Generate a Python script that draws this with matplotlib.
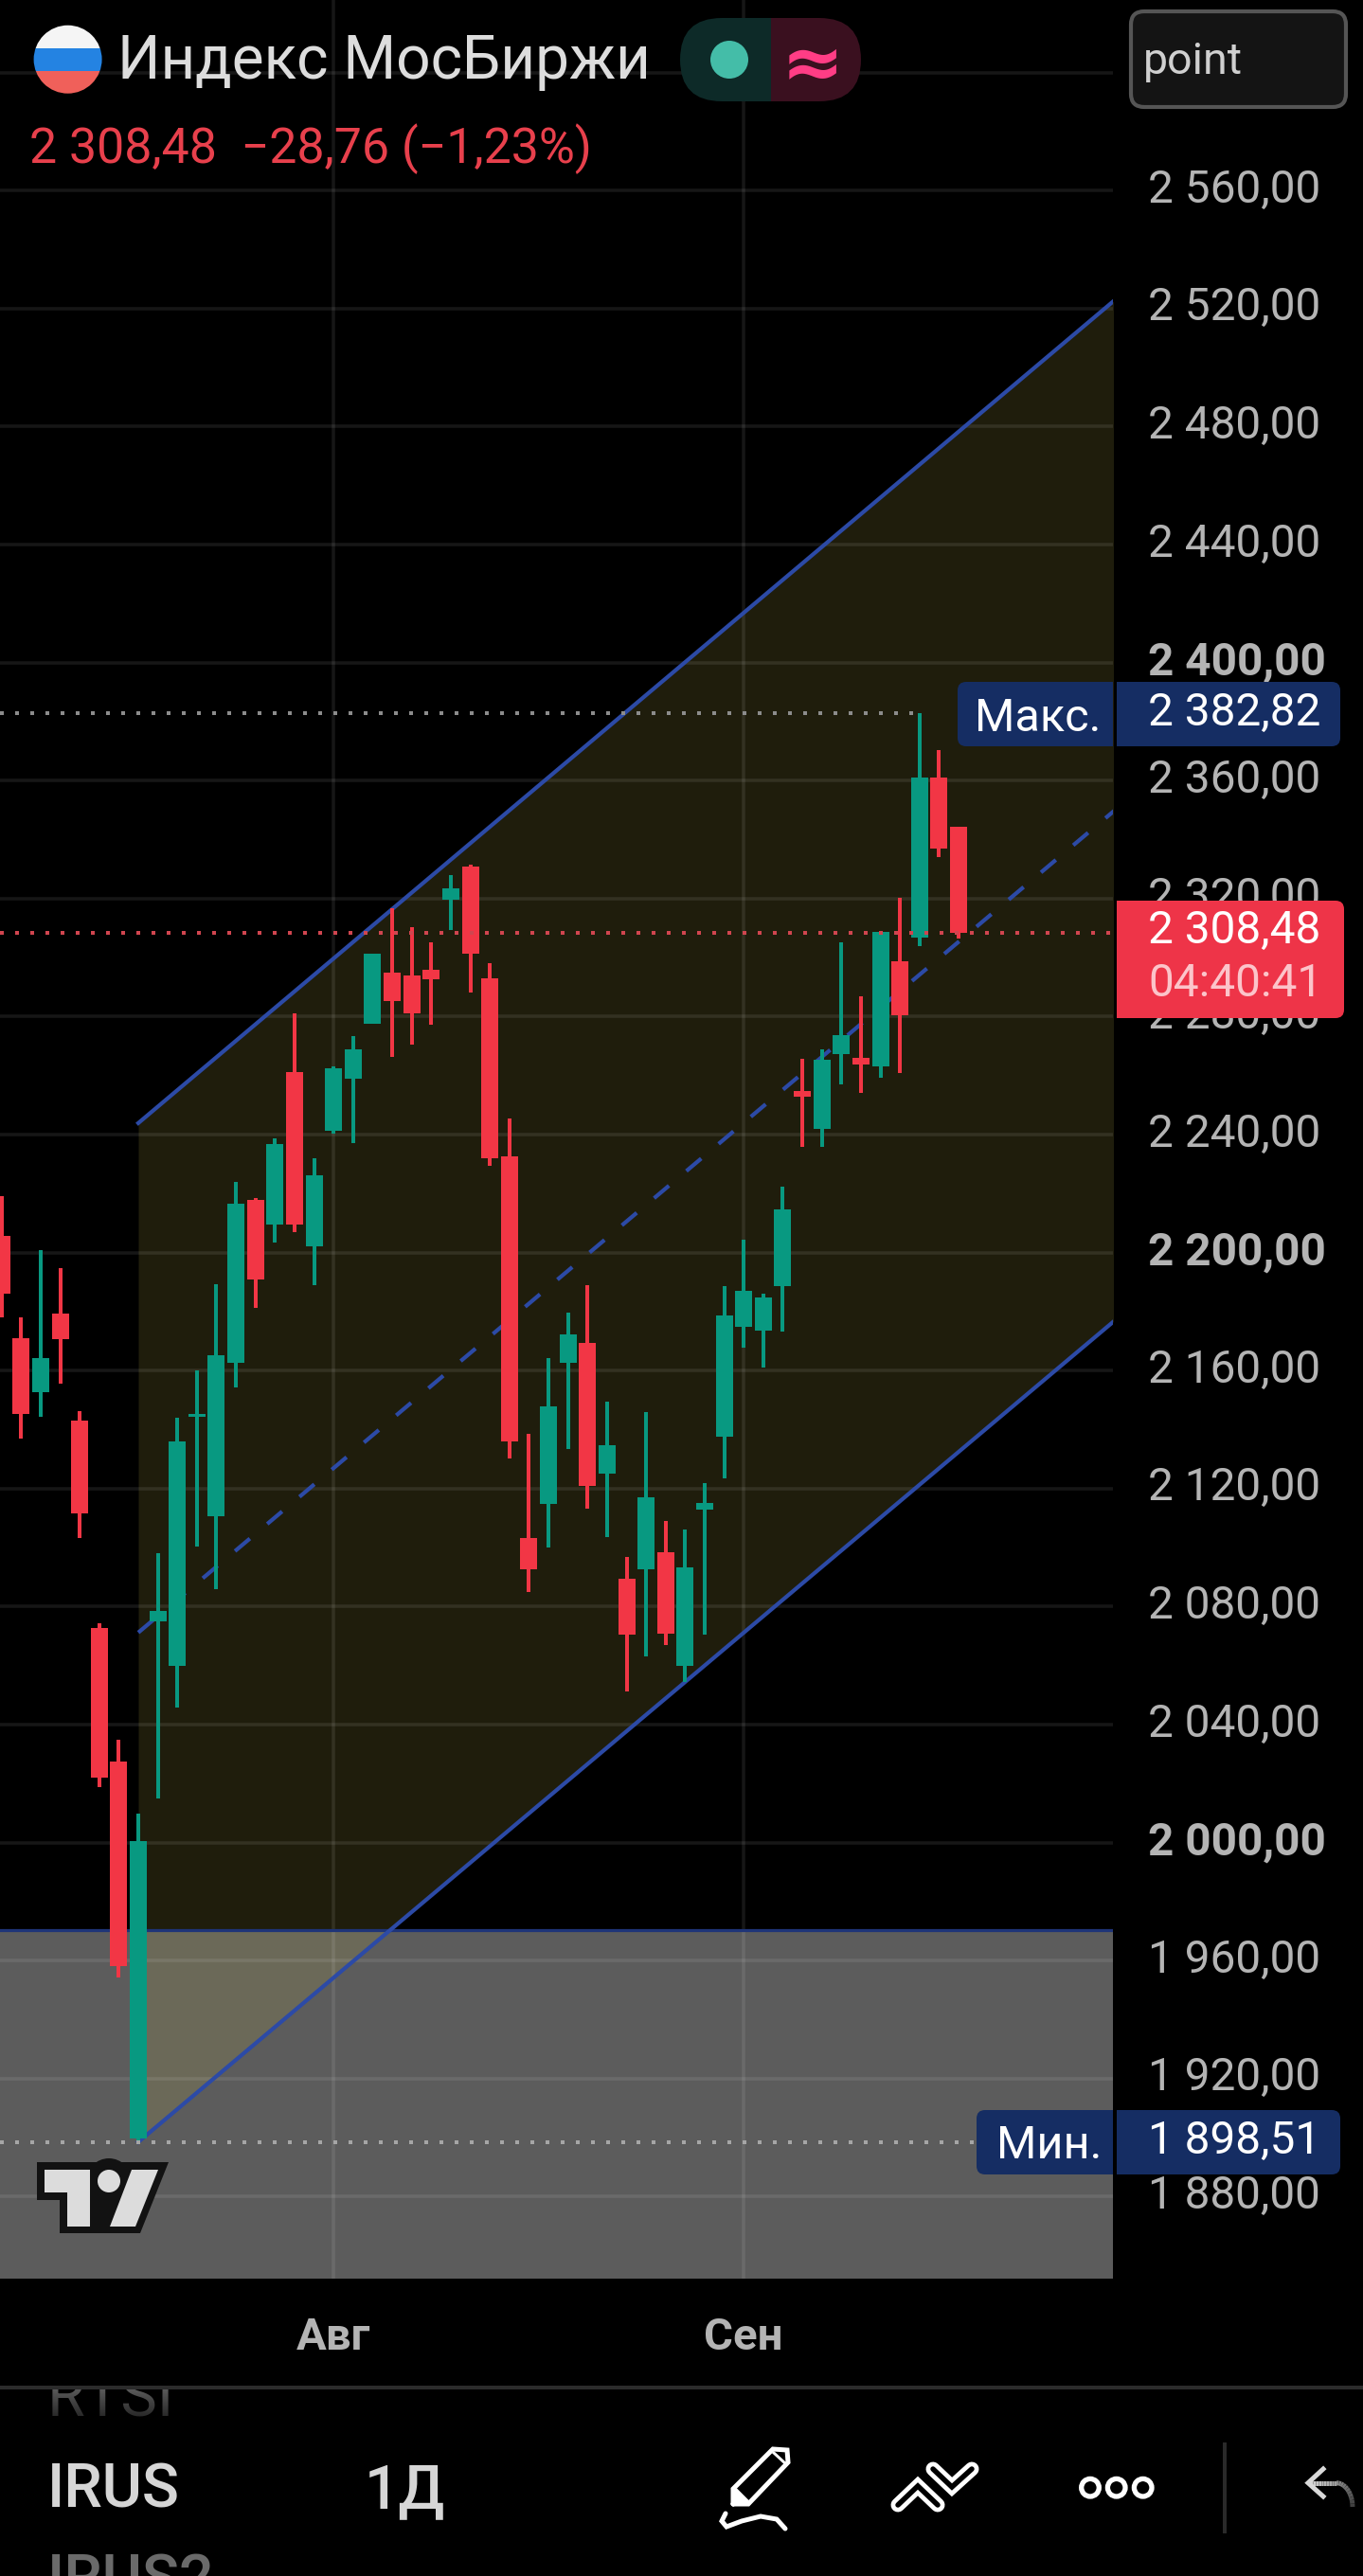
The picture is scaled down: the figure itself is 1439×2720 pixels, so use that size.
"""
Moscow Exchange index daily candles with a regression channel, phone app screen
"""
import matplotlib
matplotlib.use('Agg')
import matplotlib.pyplot as plt
from matplotlib.patches import Rectangle, Circle, FancyBboxPatch, Polygon
from matplotlib.transforms import ScaledTranslation
import numpy as np

plt.rcParams['font.family'] = ['Roboto', 'DejaVu Sans']
plt.rcParams['lines.scale_dashes'] = False

# candles, day 0 is the yearly low
days = list(range(-7, 43))
opens = [2205.6, 2171, 2152.7, 2179.3, 2143, 2072.7, 2027.5, 1899.8, 2075, 2059.9,
         2144.3, 2110.6, 2162.6, 2217.8, 2209.5, 2261.2, 2202, 2241.3, 2259, 2277.6,
         2295, 2294, 2296, 2319.6, 2331, 2293, 2232.6, 2103.1, 2114.9, 2162.6,
         2169.4, 2125, 2089.5, 2092.7, 2098.5, 2060, 2113, 2137.7, 2174.9, 2173.7,
         2188.8, 2254.8, 2241.8, 2267.4, 2265.9, 2263, 2298.7, 2306.8, 2360.9, 2344.5]
highs = [2219, 2178, 2200.7, 2194.8, 2146.4, 2074.3, 2034.9, 2009.7, 2098.2, 2144.1,
         2160.1, 2189.2, 2223.9, 2218.5, 2238.7, 2281, 2232.1, 2263.2, 2273.4, 2301.4,
         2316.7, 2310.4, 2305.3, 2327.9, 2331.6, 2298, 2245.4, 2138.7, 2164.1, 2179.6,
         2189, 2149.5, 2096.7, 2146, 2109.1, 2106, 2122, 2188.8, 2204.4, 2186,
         2222.2, 2265.6, 2269, 2305.3, 2287, 2308.8, 2320.4, 2382.82, 2370.4, 2344.5]
lows = [2178, 2137, 2144.4, 2155.6, 2103.2, 2018.7, 1954.3, 1898.51, 2014.9, 2045.7,
        2100.2, 2085.8, 2154.3, 2181.3, 2203.4, 2207, 2189.1, 2240.4, 2237.1, 2277.6,
        2266.2, 2270.6, 2277.2, 2309.3, 2288, 2229.3, 2130.2, 2084.8, 2100, 2133.5,
        2113.2, 2103.6, 2051.2, 2063.2, 2067, 2054.6, 2070.4, 2123.5, 2167.9, 2161.1,
        2173.3, 2235.9, 2235.9, 2257.1, 2254, 2259.3, 2260.9, 2304, 2334.1, 2306.6]
closes = [2186, 2145.3, 2164.2, 2170.7, 2111.5, 2022, 1958, 2000.5, 2078.6, 2136,
          2145.3, 2165.3, 2216.7, 2190.8, 2236.9, 2209.4, 2226.2, 2262.5, 2269, 2301.4,
          2285.4, 2281, 2292.7, 2323.5, 2301.2, 2232, 2136, 2092.6, 2147.9, 2172.2,
          2121, 2134.8, 2070.6, 2117.2, 2070.8, 2093.3, 2115, 2178.7, 2187, 2184.8,
          2214.7, 2253, 2265.4, 2273.7, 2263.8, 2308.6, 2280.5, 2360.9, 2336.8, 2308.48]

# channel, low line and high line between its two anchor days
channel_days = [0, 50]
channel_low = [1898.51, 2177]
channel_high = [2243.9, 2522.9]
zone_top = 1970.4

last_price = 2308.48
max_price = 2382.82
min_price = 1898.51

price_ticks = list(range(1880, 2601, 40))
bold_ticks = [2000, 2200, 2400]
month_days = [10, 31]
month_labels = ['Авг', 'Сен']

UP = '#089981'
DOWN = '#f23645'
BLUE = '#2c4aa6'
BADGE = '#152d63'
PX = 0.72  # one pixel in points at dpi 100


def price_label(v):
    return f'{v // 1000} {v % 1000:03d},00'


fig = plt.figure(figsize=(14.39, 27.2), dpi=100, facecolor='black')

# chart
ax = fig.add_axes([0, (2720 - 2406) / 2720, 1175 / 1439, 2406 / 2720], facecolor='black')
ax.set_xlim(-146 / 20.62, 1029 / 20.62)
ax.set_ylim(1852.2, 2624.6)
for s in ax.spines.values():
    s.set_visible(False)

ax.set_axisbelow('line')
ax.set_yticks(price_ticks, labels=[price_label(v) for v in price_ticks])
ax.set_xticks(month_days, labels=month_labels)
ax.grid(True, color='white', alpha=0.09, linewidth=3.6 * PX)
ax.tick_params(axis='y', left=False, right=False, labelleft=False, labelright=True,
               pad=32 * PX, labelsize=34.4, labelcolor='#b4b4b4')
ax.tick_params(axis='x', bottom=False, pad=35 * PX, labelsize=34, labelcolor='#b4b4b4')
for tick, v in zip(ax.yaxis.get_major_ticks(), price_ticks):
    tick.label2.set_va('baseline')
    tick.label2.set_transform(tick.label2.get_transform()
                              + ScaledTranslation(0, -12.5 / 100, fig.dpi_scale_trans))
    if v in bold_ticks:
        tick.label2.set_fontweight('bold')
for lab in ax.get_xticklabels():
    lab.set_fontweight('bold')

ax.axhspan(ax.get_ylim()[0], zone_top, color='#5c5c5c', linewidth=0, zorder=0.5)
ax.axhline(zone_top, color='#1e3478', linewidth=3.2 * PX, zorder=2)

ax.fill_between(channel_days, channel_low, channel_high, color='#b2a846', alpha=0.175,
                linewidth=0, zorder=1)
ax.plot(channel_days, channel_low, color=BLUE, linewidth=4.2 * PX, zorder=2)
ax.plot(channel_days, channel_high, color=BLUE, linewidth=4.2 * PX, zorder=2)
channel_mid = [(a + b) / 2 for a, b in zip(channel_low, channel_high)]
ax.plot(channel_days, channel_mid, color=BLUE, linewidth=4.2 * PX, zorder=2,
        dashes=(20.5 * PX, 24 * PX))

colors = [UP if c >= o else DOWN for o, c in zip(opens, closes)]
ax.vlines(days, lows, highs, colors=colors, linewidth=4 * PX, zorder=3)
ax.bar(days, [abs(c - o) for o, c in zip(opens, closes)],
       bottom=[min(o, c) for o, c in zip(opens, closes)],
       width=18 / 20.62, color=colors, linewidth=0, zorder=3)

dot = (4 * PX, 12 * PX)
ax.plot([ax.get_xlim()[0], days[-1] + 8], [last_price] * 2, color='#d0454f', linewidth=4 * PX,
        dashes=dot, zorder=4)
ax.plot([ax.get_xlim()[0], 40.1], [max_price] * 2, color='#8c8c8c', linewidth=4 * PX,
        dashes=dot, zorder=4)
ax.plot([ax.get_xlim()[0], 43], [min_price] * 2, color='#a6a6a6', linewidth=4 * PX,
        dashes=dot, zorder=4)

# app chrome, drawn in screen pixels
ui = fig.add_axes([0, 0, 1, 1], zorder=5)
ui.patch.set_visible(False)
ui.axis('off')


def label(x, y, s, size, color='white', **kw):
    return ui.text(x, y, s, fontsize=size, color=color, va='baseline', **kw)


def rounded(x0, y0, x1, y1, r, **kw):
    p = FancyBboxPatch((x0, y0), x1 - x0, y1 - y0, boxstyle=f'round,pad=0,rounding_size={r}',
                       linewidth=kw.pop('linewidth', 0), **kw)
    ui.add_patch(p)
    return p


# flag
flag = Circle((71.6, 62.7), 36, transform=ui.transData)
for y0, y1, c in [(20, 50.7, '#f5f5f5'), (50.7, 75, '#2483e2'), (75, 105, '#f0605a')]:
    r = Rectangle((30, y0), 84, y1 - y0, color=c, linewidth=0)
    ui.add_patch(r)
    r.set_clip_path(flag)

label(124, 83, 'Индекс МосБиржи', 46, '#dddddd')
label(31, 172, '2 308,48  −28,76 (−1,23%)', 37.4, '#e8404c')

# market status pill
pill = FancyBboxPatch((718, 19), 191, 88, boxstyle='round,pad=0,rounding_size=44',
                      transform=ui.transData)
for x0, x1, c in [(718, 814, '#0d2a28'), (814, 909, '#3a101f')]:
    r = Rectangle((x0, 19), x1 - x0, 88, color=c, linewidth=0)
    ui.add_patch(r)
    r.set_clip_path(pill)
ui.add_patch(Circle((770, 63), 20, color='#44bda8', linewidth=0))
ui.text(858, 63, '≈', fontsize=57, color='#ff3d85', fontweight='bold', family='DejaVu Sans',
        ha='center', va='center_baseline')

rounded(1194, 12, 1421, 113, 14, facecolor='#141414', edgecolor='#555555', linewidth=3)
label(1207, 78, 'point', 33.5, '#d0d0d0')

# price badges
rounded(1011, 720, 1175, 788, 9, facecolor=BADGE)
ui.add_patch(Rectangle((1160, 720), 15, 68, color=BADGE, linewidth=0))
rounded(1179, 720, 1415, 788, 9, facecolor=BADGE)
ui.add_patch(Rectangle((1179, 720), 15, 68, color=BADGE, linewidth=0))
label(1029, 772, 'Макс.', 35)
label(1212, 766, '2 382,82', 34.4)

rounded(1179, 951, 1419, 1075, 9, facecolor='#ee3448')
ui.add_patch(Rectangle((1179, 951), 15, 124, color='#ee3448', linewidth=0))
label(1212, 996, '2 308,48', 34.4)
label(1212, 1052, '04:40:41', 34.4, '#fcc4ca')

rounded(1031, 2228, 1175, 2296, 9, facecolor=BADGE)
ui.add_patch(Rectangle((1160, 2228), 15, 68, color=BADGE, linewidth=0))
rounded(1179, 2228, 1415, 2296, 9, facecolor=BADGE)
ui.add_patch(Rectangle((1179, 2228), 15, 68, color=BADGE, linewidth=0))
label(1052, 2279, 'Мин.', 35)
label(1212, 2274, '1 898,51', 34.4)

# tradingview logo
ui.add_patch(Polygon([(39, 2283), (178, 2283), (148, 2358), (63, 2358), (63, 2323), (39, 2323)],
                     color='#121212', linewidth=0))
ui.add_patch(Circle((115, 2303), 24, color='#121212', linewidth=0))
ui.add_patch(Polygon([(47, 2291), (95, 2291), (95, 2351), (71, 2351), (71, 2315), (47, 2315)],
                     color='#dcdcdc', linewidth=0))
ui.add_patch(Circle((115, 2303), 12, color='#dcdcdc', linewidth=0))
ui.add_patch(Polygon([(139, 2291), (167, 2291), (143, 2351), (116, 2351)],
                     color='#dcdcdc', linewidth=0))

# bottom toolbar, the list behind it slides under the separator
label(50, 2552, 'RTSI', 46.5, '#5a5a5a', zorder=1)
ui.add_patch(Rectangle((0, 2495), 1439, 26, color='black', linewidth=0, zorder=2))
ui.add_patch(Rectangle((0, 2519), 1439, 4, color='#2b2b2b', linewidth=0, zorder=3))
label(50, 2648, 'IRUS', 46.5, '#d6d6d6', fontweight='medium')
label(385, 2648, '1Д', 46.5, '#d6d6d6', fontweight='medium')
label(50, 2744, 'IRUS2', 46.5, '#6a6a6a', fontweight='medium', clip_on=True)

fade = np.zeros((32, 1, 4))
fade[:, 0, 3] = np.linspace(0.0, 0.55, 32)
ui.imshow(fade, extent=(40, 200, 2552, 2522), aspect='auto', zorder=1.5)
ui.imshow(fade[::-1], extent=(40, 240, 2720, 2696), aspect='auto', zorder=1.5)

# pencil icon
pen = dict(color='white', linewidth=5 * PX, solid_capstyle='round', solid_joinstyle='miter')
ui.plot([774, 774, 816, 831, 832, 790, 774], [2644, 2628, 2586, 2587, 2600, 2644, 2644], **pen)
ui.plot([776, 790], [2629, 2643], **pen)
ui.plot([817, 830], [2590, 2602], color='white', linewidth=3 * PX)
ui.add_patch(Polygon([(774, 2644), (774, 2628), (790, 2644)], color='white', linewidth=0))
ui.plot([766, 762, 767, 783, 803, 820, 829], [2654, 2662, 2668, 2662, 2657, 2660, 2670], **pen)

# drawing tools icon
for xs, ys in [([948, 969, 990], [2645, 2625, 2645]), ([985, 1005, 1026], [2607, 2626, 2607])]:
    ui.plot(xs, ys, color='white', linewidth=15 * PX, solid_capstyle='round', solid_joinstyle='miter')
    ui.plot(xs, ys, color='black', linewidth=5.5 * PX, solid_capstyle='round', solid_joinstyle='miter')

# more icon
for cx in (1151, 1178.7, 1206.7):
    ui.add_patch(Circle((cx, 2626.7), 9.3, fill=False, edgecolor='white', linewidth=5.3 * PX))

ui.add_patch(Rectangle((1291, 2579), 4, 96, color='#2a2a2a', linewidth=0))

# undo icon, fades out towards the end
ang = np.linspace(0, np.pi / 2, 12)
arrow_x = np.r_[np.linspace(1381, 1411, 12), 1411 + 17 * np.sin(ang)]
arrow_y = np.r_[np.full(12, 2621.7), 2647 - 25.3 * np.cos(ang)]
shades = np.r_[np.linspace(0.85, 0.6, 12), np.linspace(0.55, 0.22, 12)]
for i in range(len(arrow_x) - 1):
    ui.plot(arrow_x[i:i + 2], arrow_y[i:i + 2], color=str(shades[i]), linewidth=5 * PX,
            solid_capstyle='butt')
ui.plot([1397, 1381, 1397], [2607, 2621.7, 2636], color='0.85', linewidth=5 * PX,
        solid_joinstyle='miter')

ui.set_xlim(0, 1439)
ui.set_ylim(2720, 0)

fig.savefig('out.png', dpi=100, facecolor='black')
plt.close(fig)
